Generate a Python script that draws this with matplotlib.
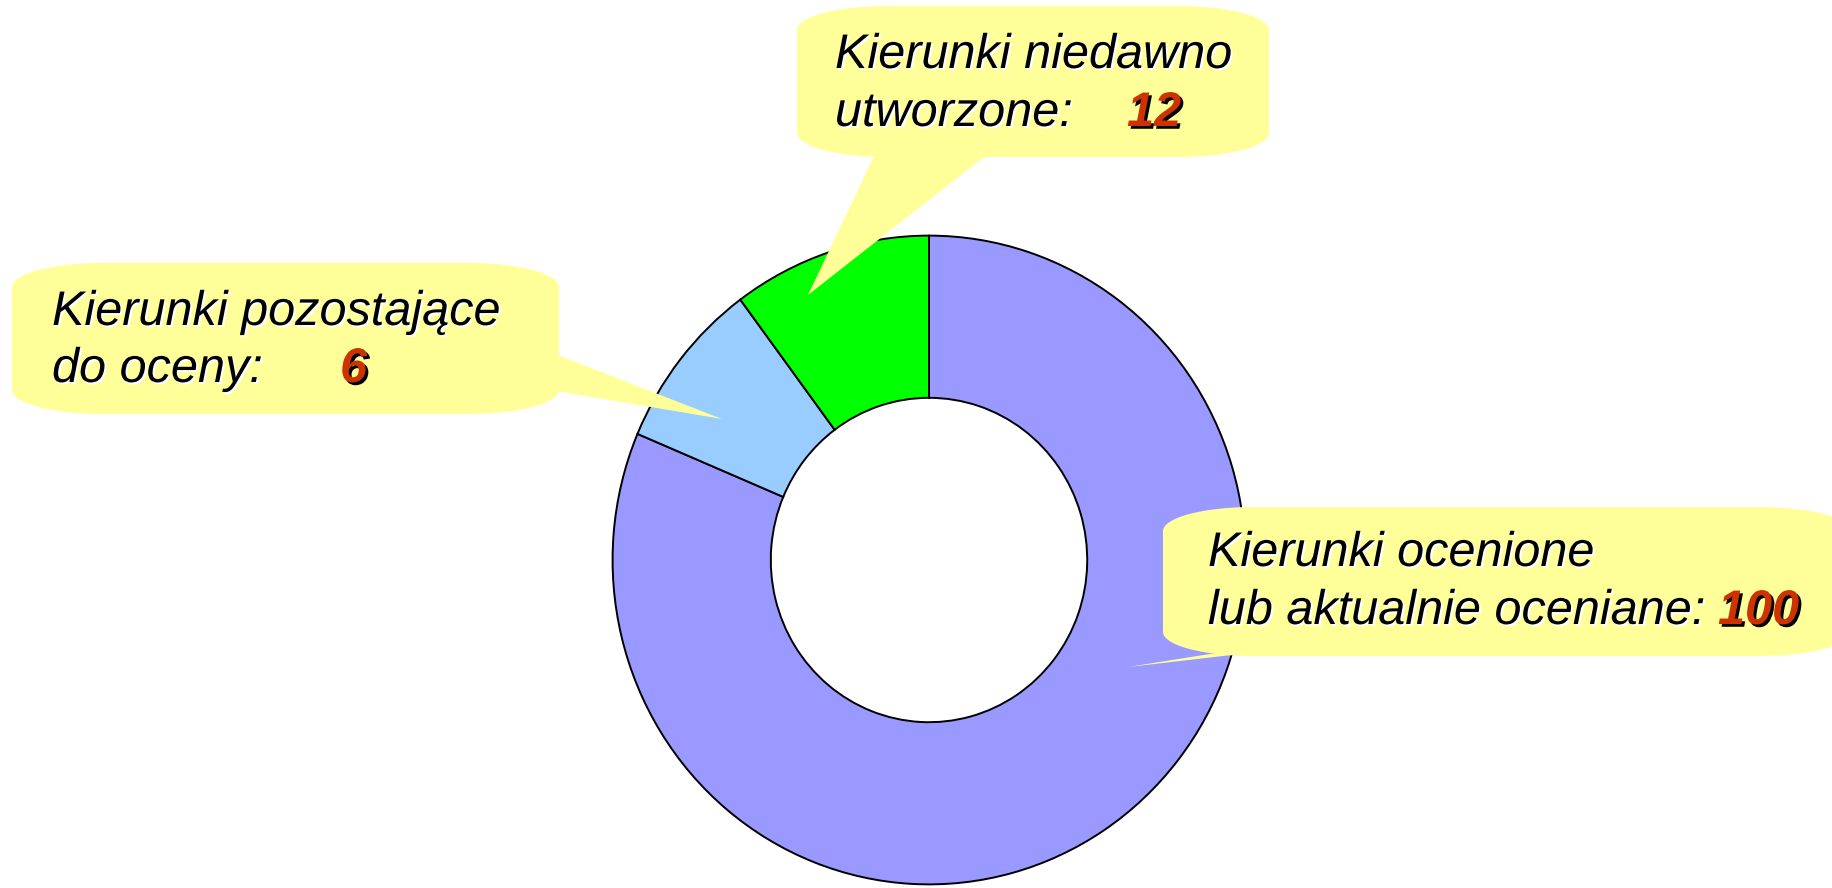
import numpy as np
import matplotlib
matplotlib.use("Agg")
import matplotlib.pyplot as plt
from matplotlib.patches import Polygon
import matplotlib.patheffects as pe

# ---- data ----
categories = ["Kierunki ocenione lub aktualnie oceniane",
              "Kierunki pozostające do oceny",
              "Kierunki niedawno utworzone"]
wedge_sizes = [96, 10, 12]          # slice sizes as drawn in the picture
callout_values = ["100", "6", "12"]  # numbers printed in the callouts
wedge_colors = ["#9999FF", "#99CCFF", "#00FF00"]

W, H = 1832, 888
fig = plt.figure(figsize=(W / 100, H / 100), dpi=100)
fig.patch.set_facecolor("white")

# ---- donut ----
cx, cy, rx, ry = 929, 560, 318, 326
ax = fig.add_axes([(cx - rx) / W, (H - (cy + ry)) / H, 2 * rx / W, 2 * ry / H])
ax.pie(wedge_sizes, colors=wedge_colors, startangle=90, counterclock=False,
       radius=1.0, wedgeprops=dict(width=0.5, edgecolor="black", linewidth=1.4))
ax.set_aspect("auto")
ax.set_xlim(-1.005, 1.005)
ax.set_ylim(-1.005, 1.005)
ax.axis("off")

# ---- callouts overlay ----
ov = fig.add_axes([0, 0, 1, 1])
ov.set_xlim(0, W)
ov.set_ylim(H, 0)
ov.axis("off")
ov.patch.set_alpha(0)

YELLOW = "#FFFF99"


def rounded_box(x0, y0, x1, y1, rxc, ryc):
    t = np.linspace(0, np.pi / 2, 30)
    pts = []
    pts += list(zip(x1 - rxc + rxc * np.sin(t), y0 + ryc - ryc * np.cos(t)))
    pts += list(zip(x1 - rxc + rxc * np.cos(t), y1 - ryc + ryc * np.sin(t)))
    pts += list(zip(x0 + rxc - rxc * np.sin(t), y1 - ryc + ryc * np.cos(t)))
    pts += list(zip(x0 + rxc - rxc * np.cos(t), y0 + ryc - ryc * np.sin(t)))
    return Polygon(pts, closed=True, facecolor=YELLOW, edgecolor="none", zorder=3)


boxes = [
    ((797, 6, 1269, 157), [(877, 150), (993, 150), (808, 295)]),
    ((12, 263, 559, 414), [(550, 352), (550, 390), (722, 419)]),
    ((1163, 507, 1850, 656), [(1235, 650), (1275, 650), (1128, 667)]),
]
for (x0, y0, x1, y1), ptr in boxes:
    ov.add_patch(rounded_box(x0, y0, x1, y1, 90, 24))
    ov.add_patch(Polygon(ptr, closed=True, facecolor=YELLOW, edgecolor="none", zorder=3))

FS = 35
text_fx = [pe.withSimplePatchShadow(offset=(1.4, -1.4), shadow_rgbFace="white", alpha=1.0)]
num_fx = [pe.withSimplePatchShadow(offset=(2.0, -2.0), shadow_rgbFace="black", alpha=1.0)]


def label(x, y, s):
    ov.text(x, y, s, fontsize=FS, family="Liberation Sans", style="italic",
            color="black", va="baseline", ha="left", zorder=5, path_effects=text_fx)


def number(x, y, s):
    ov.text(x, y, s, fontsize=FS, family="Liberation Sans", style="italic",
            weight="bold", color="#CC3300", va="baseline", ha="left", zorder=5,
            path_effects=num_fx)


label(835, 68, "Kierunki niedawno")
label(835, 126, "utworzone:")
number(1127, 126, callout_values[2])

label(52, 325, "Kierunki pozostające")
label(52, 382, "do oceny:")
number(340, 382, callout_values[1])

label(1208, 566, "Kierunki ocenione")
label(1208, 624, "lub aktualnie oceniane:")
number(1718, 624, callout_values[0])

fig.savefig("out.png", dpi=100, facecolor="white")
